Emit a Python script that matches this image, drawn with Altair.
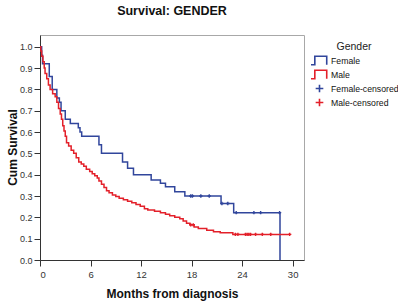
import altair as alt
import pandas as pd

# ---- data ----
female_t = [0, 0.2, 0.3, 1.1, 1.45, 2.0, 2.3, 2.5, 3.0, 3.6, 4.55, 4.75, 4.95, 7.0, 7.3,
            9.8, 10.4, 11.1, 13.2, 14.3, 14.9, 16.0, 17.2, 21.5, 23.0, 28.5]
female_s = [1.0, 0.96, 0.92, 0.86, 0.80, 0.76, 0.74, 0.70, 0.66, 0.64, 0.62, 0.60, 0.58, 0.54, 0.50,
            0.46, 0.43, 0.40, 0.375, 0.36, 0.343, 0.32, 0.30, 0.265, 0.222, 0.0]
female_cens = [17.9, 18.1, 19.1, 20.1, 21.6, 22.3, 23.3, 25.4, 26.2, 28.45]

male_t = [0, 0.1, 0.2, 0.35, 0.5, 0.6, 0.8, 1.0, 1.2, 1.5, 1.8, 2.0, 2.2, 2.4, 2.55, 2.7, 2.85,
          3.0, 3.15, 3.4, 3.7, 4.0, 4.3, 4.6, 4.9, 5.2, 5.5, 5.9, 6.2, 6.5, 6.8, 7.0, 7.3, 7.6,
          7.9, 8.2, 8.6, 9.0, 9.4, 9.9, 10.4, 10.9, 11.4, 11.9, 12.4, 12.8, 13.6, 14.3, 14.9,
          15.4, 16.0, 16.6, 17.0, 17.4, 17.8, 18.3, 18.8, 19.8, 20.6, 21.4, 22.9, 29.65]
male_s = [1.0, 0.98, 0.955, 0.93, 0.90, 0.875, 0.85, 0.82, 0.80, 0.78, 0.765, 0.74, 0.71, 0.685,
          0.66, 0.63, 0.605, 0.58, 0.55, 0.535, 0.515, 0.50, 0.48, 0.46, 0.45, 0.44, 0.425, 0.415,
          0.405, 0.395, 0.385, 0.37, 0.355, 0.34, 0.325, 0.315, 0.305, 0.298, 0.29, 0.283, 0.276,
          0.268, 0.26, 0.252, 0.24, 0.234, 0.228, 0.222, 0.215, 0.207, 0.20, 0.193, 0.183, 0.172,
          0.165, 0.155, 0.148, 0.14, 0.133, 0.128, 0.12, 0.12]
male_cens = [17.9, 18.2, 23.2, 23.5, 24.4, 24.6, 24.8, 25.0, 25.6, 26.4, 27.4, 29.65]

keys = ["Female", "Male", "Female-censored", "Male-censored"]
colors = ["#31469c", "#e3202a", "#31469c", "#e3202a"]
x_ticks = [0, 6, 12, 18, 24, 30]
y_ticks = [0.0, 0.1, 0.2, 0.3, 0.4, 0.5, 0.6, 0.7, 0.8, 0.9, 1.0]

STEP = "M-1,0.5H-0.55V-0.5H0.85V0.5"
PLUS = "M0,-0.45V0.45M-0.45,0H0.45"
shapes = [STEP, STEP, PLUS, PLUS]


def surv_at(ts, ss, t):
    v = ss[0]
    for ti, si in zip(ts, ss):
        if ti <= t:
            v = si
    return v


lines = pd.DataFrame(
    [{"t": t, "s": s, "key": "Female", "o": i} for i, (t, s) in enumerate(zip(female_t, female_s))]
    + [{"t": t, "s": s, "key": "Male", "o": i} for i, (t, s) in enumerate(zip(male_t, male_s))]
)
cens = pd.DataFrame(
    [{"t": t, "s": surv_at(female_t[:-1], female_s[:-1], t), "key": "Female-censored"} for t in female_cens]
    + [{"t": t, "s": surv_at(male_t, male_s, t), "key": "Male-censored"} for t in male_cens]
)

xenc = alt.X("t:Q", title="Months from diagnosis",
             scale=alt.Scale(domain=[0, 31.35], nice=False, zero=False),
             axis=alt.Axis(values=x_ticks, format="d", grid=False, tickSize=6,
                           labelPadding=3, titlePadding=10, labelOverlap=False))
yenc = alt.Y("s:Q", title="Cum Survival",
             scale=alt.Scale(domain=[0, 1.055], nice=False),
             axis=alt.Axis(values=y_ticks, tickCount=11, format=".1f", grid=False, tickSize=6,
                           labelPadding=2, labelOverlap=False, labelFontSize=9,
                           titleX=-28, titleY=112, titleAngle=-90,
                           titleBaseline="middle", titleAlign="center"))
color = alt.Color("key:N", title="Gender",
                  scale=alt.Scale(domain=keys, range=colors),
                  legend=alt.Legend(orient="none", legendX=270, legendY=7,
                                    titleAnchor="middle", titleFontSize=10.5,
                                    titleFontWeight="normal", titleColor="#222",
                                    labelFontSize=8.7, labelColor="#111",
                                    symbolSize=289, symbolStrokeWidth=1.6,
                                    labelOffset=2, rowPadding=0, padding=0,
                                    clipHeight=14, titlePadding=1))
shape = alt.Shape("key:N", title="Gender", scale=alt.Scale(domain=keys, range=shapes))

line_layer = alt.Chart(lines).mark_line(interpolate="step-after", strokeWidth=1.5).encode(
    x=xenc, y=yenc, color=color, detail="key:N", order="o:Q")
cens_layer = alt.Chart(cens).mark_point(filled=False, size=55, strokeWidth=1.4, opacity=1).encode(
    x=xenc, y=yenc, color=color, shape=shape)

chart = alt.layer(line_layer, cens_layer).properties(
    width=264, height=225,
    title=alt.Title("Survival: GENDER", fontSize=12.5, fontWeight="bold", color="#111",
                    anchor="middle", offset=18),
    autosize=alt.AutoSizeParams(type="none"),
    padding={"left": 40, "top": 35, "right": 94, "bottom": 43},
).configure(font="Liberation Sans").configure_view(
    stroke="#a8a8a8", strokeWidth=1
).configure_axis(
    domainColor="#333", tickColor="#333", labelColor="#333", labelFontSize=9.5,
    titleFontSize=12, titleFontWeight="bold", titleColor="#111"
)

chart.save("out.html", embed_options={"renderer": "svg", "actions": False})
